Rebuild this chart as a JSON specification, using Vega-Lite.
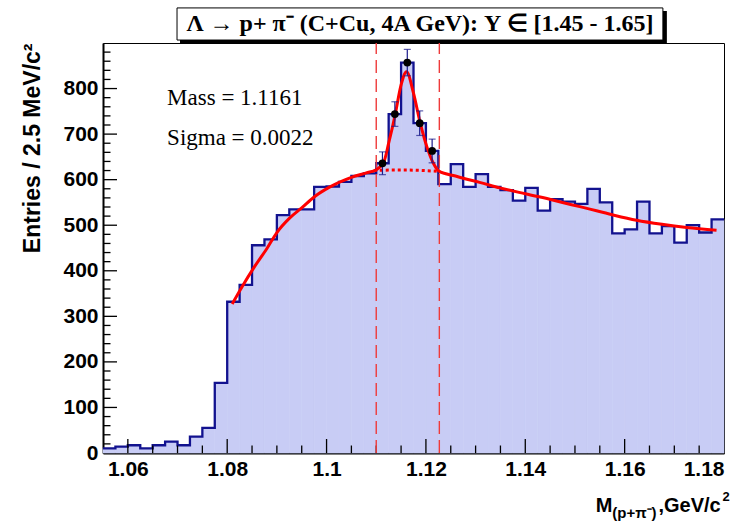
{
  "$schema": "https://vega.github.io/schema/vega-lite/v6.json",
  "autosize": {"type": "none"},
  "width": 621,
  "height": 410,
  "padding": {"left": 103, "top": 43, "right": 26, "bottom": 69},
  "background": "white",
  "config": {
    "view": {"stroke": "black", "strokeWidth": 1},
    "axis": {"grid": false, "zindex": 1, "labelFont": "Liberation Sans", "labelFontWeight": "bold", "labelColor": "black", "titleFont": "Liberation Sans", "titleFontWeight": "bold", "titleColor": "black", "domainColor": "black"}
  },
  "datasets": {
    "bins": [
      {"lo": 1.0550, "hi": 1.0575, "n": 10},
      {"lo": 1.0575, "hi": 1.0600, "n": 14},
      {"lo": 1.0600, "hi": 1.0625, "n": 17},
      {"lo": 1.0625, "hi": 1.0650, "n": 10},
      {"lo": 1.0650, "hi": 1.0675, "n": 17},
      {"lo": 1.0675, "hi": 1.0700, "n": 25},
      {"lo": 1.0700, "hi": 1.0725, "n": 17},
      {"lo": 1.0725, "hi": 1.0750, "n": 36},
      {"lo": 1.0750, "hi": 1.0775, "n": 55},
      {"lo": 1.0775, "hi": 1.0800, "n": 154},
      {"lo": 1.0800, "hi": 1.0825, "n": 332},
      {"lo": 1.0825, "hi": 1.0850, "n": 369},
      {"lo": 1.0850, "hi": 1.0875, "n": 456},
      {"lo": 1.0875, "hi": 1.0900, "n": 469},
      {"lo": 1.0900, "hi": 1.0925, "n": 522},
      {"lo": 1.0925, "hi": 1.0950, "n": 535},
      {"lo": 1.0950, "hi": 1.0975, "n": 535},
      {"lo": 1.0975, "hi": 1.1000, "n": 584},
      {"lo": 1.1000, "hi": 1.1025, "n": 585},
      {"lo": 1.1025, "hi": 1.1050, "n": 595},
      {"lo": 1.1050, "hi": 1.1075, "n": 608},
      {"lo": 1.1075, "hi": 1.1100, "n": 614},
      {"lo": 1.1100, "hi": 1.1125, "n": 636},
      {"lo": 1.1125, "hi": 1.1150, "n": 744},
      {"lo": 1.1150, "hi": 1.1175, "n": 857},
      {"lo": 1.1175, "hi": 1.1200, "n": 724},
      {"lo": 1.1200, "hi": 1.1225, "n": 663},
      {"lo": 1.1225, "hi": 1.1250, "n": 590},
      {"lo": 1.1250, "hi": 1.1275, "n": 634},
      {"lo": 1.1275, "hi": 1.1300, "n": 584},
      {"lo": 1.1300, "hi": 1.1325, "n": 612},
      {"lo": 1.1325, "hi": 1.1350, "n": 584},
      {"lo": 1.1350, "hi": 1.1375, "n": 577},
      {"lo": 1.1375, "hi": 1.1400, "n": 554},
      {"lo": 1.1400, "hi": 1.1425, "n": 582},
      {"lo": 1.1425, "hi": 1.1450, "n": 532},
      {"lo": 1.1450, "hi": 1.1475, "n": 557},
      {"lo": 1.1475, "hi": 1.1500, "n": 552},
      {"lo": 1.1500, "hi": 1.1525, "n": 547},
      {"lo": 1.1525, "hi": 1.1550, "n": 580},
      {"lo": 1.1550, "hi": 1.1575, "n": 550},
      {"lo": 1.1575, "hi": 1.1600, "n": 482},
      {"lo": 1.1600, "hi": 1.1625, "n": 491},
      {"lo": 1.1625, "hi": 1.1650, "n": 552},
      {"lo": 1.1650, "hi": 1.1675, "n": 482},
      {"lo": 1.1675, "hi": 1.1700, "n": 498},
      {"lo": 1.1700, "hi": 1.1725, "n": 462},
      {"lo": 1.1725, "hi": 1.1750, "n": 500},
      {"lo": 1.1750, "hi": 1.1775, "n": 484},
      {"lo": 1.1775, "hi": 1.1800, "n": 513}
    ],
    "fit": [
      {"m": 1.0810, "f": 327}, {"m": 1.0830, "f": 365}, {"m": 1.0855, "f": 409},
      {"m": 1.0880, "f": 449}, {"m": 1.0900, "f": 484}, {"m": 1.0925, "f": 515},
      {"m": 1.0950, "f": 538}, {"m": 1.0975, "f": 562}, {"m": 1.1005, "f": 583},
      {"m": 1.1050, "f": 605}, {"m": 1.1080, "f": 615}, {"m": 1.1100, "f": 622},
      {"m": 1.1115, "f": 638}, {"m": 1.1125, "f": 680}, {"m": 1.1138, "f": 742},
      {"m": 1.1150, "f": 808}, {"m": 1.1161, "f": 837}, {"m": 1.1175, "f": 790},
      {"m": 1.1188, "f": 727}, {"m": 1.1202, "f": 672}, {"m": 1.1215, "f": 636},
      {"m": 1.1225, "f": 620}, {"m": 1.1240, "f": 613}, {"m": 1.1255, "f": 609},
      {"m": 1.1275, "f": 603}, {"m": 1.1308, "f": 594}, {"m": 1.1349, "f": 582},
      {"m": 1.1400, "f": 569}, {"m": 1.1457, "f": 555}, {"m": 1.1524, "f": 537},
      {"m": 1.1575, "f": 523}, {"m": 1.1624, "f": 511}, {"m": 1.1675, "f": 502},
      {"m": 1.1725, "f": 495}, {"m": 1.1785, "f": 489}
    ],
    "background_fit": [
      {"m": 1.1095, "f": 620}, {"m": 1.1130, "f": 621}, {"m": 1.1161, "f": 621},
      {"m": 1.1195, "f": 620}, {"m": 1.1227, "f": 618}
    ],
    "signal": [
      {"m": 1.11125, "n": 636, "lo": 611, "hi": 661},
      {"m": 1.11375, "n": 744, "lo": 717, "hi": 771},
      {"m": 1.11625, "n": 857, "lo": 828, "hi": 886},
      {"m": 1.11875, "n": 724, "lo": 697, "hi": 751},
      {"m": 1.12125, "n": 663, "lo": 637, "hi": 689}
    ],
    "window": [{"edge": 1.1100}, {"edge": 1.1227}],
    "x_ticks": [
      {"edge": 1.06, "kind": "major"}, {"edge": 1.08, "kind": "major"}, {"edge": 1.10, "kind": "major"},
      {"edge": 1.12, "kind": "major"}, {"edge": 1.14, "kind": "major"}, {"edge": 1.16, "kind": "major"},
      {"edge": 1.065, "kind": "minor"}, {"edge": 1.07, "kind": "minor"}, {"edge": 1.075, "kind": "minor"},
      {"edge": 1.085, "kind": "minor"}, {"edge": 1.09, "kind": "minor"}, {"edge": 1.095, "kind": "minor"},
      {"edge": 1.105, "kind": "minor"}, {"edge": 1.11, "kind": "minor"}, {"edge": 1.115, "kind": "minor"},
      {"edge": 1.125, "kind": "minor"}, {"edge": 1.13, "kind": "minor"}, {"edge": 1.135, "kind": "minor"},
      {"edge": 1.145, "kind": "minor"}, {"edge": 1.15, "kind": "minor"}, {"edge": 1.155, "kind": "minor"},
      {"edge": 1.165, "kind": "minor"}, {"edge": 1.17, "kind": "minor"}, {"edge": 1.175, "kind": "minor"}
    ],
    "y_ticks": [
      {"n": 100, "kind": "major"}, {"n": 200, "kind": "major"}, {"n": 300, "kind": "major"}, {"n": 400, "kind": "major"},
      {"n": 500, "kind": "major"}, {"n": 600, "kind": "major"}, {"n": 700, "kind": "major"}, {"n": 800, "kind": "major"},
      {"n": 20, "kind": "minor"}, {"n": 40, "kind": "minor"}, {"n": 60, "kind": "minor"}, {"n": 80, "kind": "minor"},
      {"n": 120, "kind": "minor"}, {"n": 140, "kind": "minor"}, {"n": 160, "kind": "minor"}, {"n": 180, "kind": "minor"},
      {"n": 220, "kind": "minor"}, {"n": 240, "kind": "minor"}, {"n": 260, "kind": "minor"}, {"n": 280, "kind": "minor"},
      {"n": 320, "kind": "minor"}, {"n": 340, "kind": "minor"}, {"n": 360, "kind": "minor"}, {"n": 380, "kind": "minor"},
      {"n": 420, "kind": "minor"}, {"n": 440, "kind": "minor"}, {"n": 460, "kind": "minor"}, {"n": 480, "kind": "minor"},
      {"n": 520, "kind": "minor"}, {"n": 540, "kind": "minor"}, {"n": 560, "kind": "minor"}, {"n": 580, "kind": "minor"},
      {"n": 620, "kind": "minor"}, {"n": 640, "kind": "minor"}, {"n": 660, "kind": "minor"}, {"n": 680, "kind": "minor"},
      {"n": 720, "kind": "minor"}, {"n": 740, "kind": "minor"}, {"n": 760, "kind": "minor"}, {"n": 780, "kind": "minor"},
      {"n": 820, "kind": "minor"}, {"n": 840, "kind": "minor"}, {"n": 860, "kind": "minor"}, {"n": 880, "kind": "minor"}
    ],
    "single": [{}]
  },
  "layer": [
    {
      "data": {"name": "bins"},
      "mark": {"type": "rect", "fill": "#c8ccf5", "stroke": "#c8ccf5", "strokeWidth": 0.6},
      "encoding": {
        "x": {"field": "lo", "type": "quantitative",
              "scale": {"domain": [1.055, 1.18], "nice": false, "zero": false},
              "axis": {"orient": "bottom", "title": null, "values": [1.06, 1.08, 1.10, 1.12, 1.14, 1.16, 1.18], "format": ".3~g",
                       "ticks": false, "labelPadding": 5, "labelFontSize": 21, "domainWidth": 2}},
        "x2": {"field": "hi"},
        "y": {"field": "n", "type": "quantitative",
              "scale": {"domain": [0, 900], "nice": false},
              "title": "Entries / 2.5 MeV/c²",
              "axis": {"orient": "left", "values": [0, 100, 200, 300, 400, 500, 600, 700, 800],
                       "ticks": false, "labelPadding": 5, "labelFontSize": 21, "domainWidth": 2,
                       "titleFontSize": 23, "titleAnchor": "end", "titlePadding": 18}},
        "y2": {"datum": 0}
      }
    },
    {
      "data": {"name": "bins"},
      "transform": [{"fold": ["lo", "hi"], "as": ["side", "edge"]}],
      "mark": {"type": "line", "color": "#12128f", "strokeWidth": 2.3, "strokeJoin": "miter"},
      "encoding": {
        "x": {"field": "edge", "type": "quantitative", "title": null},
        "y": {"field": "n", "type": "quantitative", "title": "Entries / 2.5 MeV/c²"},
        "order": [{"field": "edge", "type": "quantitative"}, {"field": "side", "type": "nominal"}]
      }
    },
    {
      "data": {"name": "x_ticks"},
      "mark": {"type": "tick", "orient": "vertical", "color": "black", "thickness": 1.3, "clip": true, "opacity": 1},
      "encoding": {
        "x": {"field": "edge", "type": "quantitative", "title": null},
        "y": {"datum": 0},
        "size": {"field": "kind", "type": "nominal", "scale": {"domain": ["major", "minor"], "range": [28, 15]}, "legend": null}
      }
    },
    {
      "data": {"name": "y_ticks"},
      "mark": {"type": "tick", "orient": "horizontal", "color": "black", "thickness": 1.3, "clip": true, "opacity": 1},
      "encoding": {
        "y": {"field": "n", "type": "quantitative", "title": "Entries / 2.5 MeV/c²"},
        "x": {"datum": 1.055},
        "size": {"field": "kind", "type": "nominal", "scale": {"domain": ["major", "minor"], "range": [36, 18]}, "legend": null}
      }
    },
    {
      "data": {"name": "window"},
      "mark": {"type": "rule", "color": "#ee3b3b", "strokeWidth": 1.4, "strokeDash": [13, 6]},
      "encoding": {
        "x": {"field": "edge", "type": "quantitative", "title": null},
        "y": {"datum": 0},
        "y2": {"datum": 900}
      }
    },
    {
      "data": {"name": "background_fit"},
      "mark": {"type": "line", "color": "#ff0000", "strokeWidth": 3, "strokeDash": [3, 3], "interpolate": "monotone"},
      "encoding": {
        "x": {"field": "m", "type": "quantitative", "title": null},
        "y": {"field": "f", "type": "quantitative", "title": "Entries / 2.5 MeV/c²"}
      }
    },
    {
      "data": {"name": "fit"},
      "mark": {"type": "line", "color": "#ff0000", "strokeWidth": 3, "interpolate": "monotone"},
      "encoding": {
        "x": {"field": "m", "type": "quantitative", "title": null},
        "y": {"field": "f", "type": "quantitative", "title": "Entries / 2.5 MeV/c²"}
      }
    },
    {
      "data": {"name": "signal"},
      "mark": {"type": "errorbar", "ticks": {"size": 7}, "color": "#1a1a8c", "thickness": 1.2},
      "encoding": {
        "x": {"field": "m", "type": "quantitative", "title": null},
        "y": {"field": "lo", "type": "quantitative", "title": "Entries / 2.5 MeV/c²"},
        "y2": {"field": "hi"}
      }
    },
    {
      "data": {"name": "signal"},
      "mark": {"type": "point", "filled": true, "color": "black", "size": 60, "opacity": 1},
      "encoding": {
        "x": {"field": "m", "type": "quantitative", "title": null},
        "y": {"field": "n", "type": "quantitative", "title": "Entries / 2.5 MeV/c²"}
      }
    },
    {
      "data": {"name": "single"},
      "mark": {"type": "text", "text": "Mass = 1.1161", "font": "Liberation Serif", "fontSize": 23, "align": "left", "baseline": "alphabetic", "color": "black"},
      "encoding": {
        "x": {"datum": 1.0679},
        "y": {"datum": 764}
      }
    },
    {
      "data": {"name": "single"},
      "mark": {"type": "text", "text": "Sigma = 0.0022", "font": "Liberation Serif", "fontSize": 23, "align": "left", "baseline": "alphabetic", "color": "black"},
      "encoding": {
        "x": {"datum": 1.0679},
        "y": {"datum": 675.5}
      }
    },
    {
      "data": {"name": "single"},
      "mark": {"type": "rect", "fill": "black", "clip": false},
      "encoding": {
        "x": {"datum": 1.0705},
        "x2": {"datum": 1.1685},
        "y": {"datum": 970},
        "y2": {"datum": 900}
      }
    },
    {
      "data": {"name": "single"},
      "mark": {"type": "rect", "fill": "white", "stroke": "black", "strokeWidth": 1, "clip": false},
      "encoding": {
        "x": {"datum": 1.0699},
        "x2": {"datum": 1.1677},
        "y": {"datum": 977},
        "y2": {"datum": 906.5}
      }
    },
    {
      "data": {"name": "single"},
      "mark": {"type": "text", "text": "Λ → p+  π⁻ (C+Cu, 4A GeV):  Y  ∈ [1.45 - 1.65]", "font": "Liberation Serif", "fontWeight": "bold", "fontSize": 24, "align": "center", "baseline": "middle", "color": "black", "clip": false},
      "encoding": {
        "x": {"datum": 1.1188},
        "y": {"datum": 941.5}
      }
    },
    {
      "data": {"name": "single"},
      "mark": {"type": "text", "text": "M", "font": "Liberation Sans", "fontWeight": "bold", "fontSize": 20, "align": "left", "baseline": "alphabetic", "color": "black", "clip": false},
      "encoding": {
        "x": {"datum": 1.1542},
        "y": {"datum": -129.5}
      }
    },
    {
      "data": {"name": "single"},
      "mark": {"type": "text", "text": "(p+π⁻)", "font": "Liberation Sans", "fontWeight": "bold", "fontSize": 15, "align": "left", "baseline": "alphabetic", "color": "black", "clip": false},
      "encoding": {
        "x": {"datum": 1.1575},
        "y": {"datum": -142.7}
      }
    },
    {
      "data": {"name": "single"},
      "mark": {"type": "text", "text": ",GeV/c", "font": "Liberation Sans", "fontWeight": "bold", "fontSize": 20, "align": "left", "baseline": "alphabetic", "color": "black", "clip": false},
      "encoding": {
        "x": {"datum": 1.1668},
        "y": {"datum": -129.5}
      }
    },
    {
      "data": {"name": "single"},
      "mark": {"type": "text", "text": "2", "font": "Liberation Sans", "fontWeight": "bold", "fontSize": 13, "align": "left", "baseline": "alphabetic", "color": "black", "clip": false},
      "encoding": {
        "x": {"datum": 1.1797},
        "y": {"datum": -105}
      }
    }
  ]
}
